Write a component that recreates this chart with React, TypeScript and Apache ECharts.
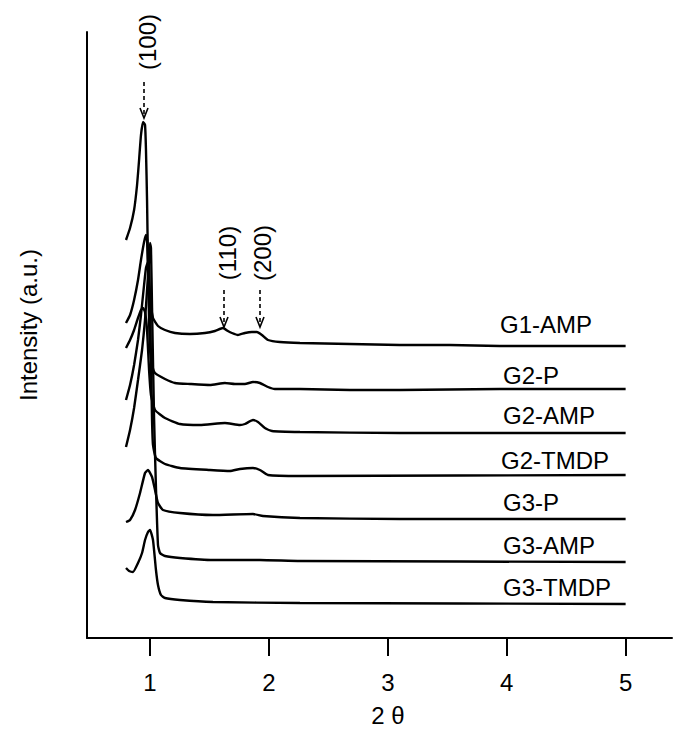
import React, { useEffect, useRef } from "react";
import * as echarts from "echarts";

// 2θ values and offset intensities (a.u.)
const seriesNames = ["G1-AMP", "G2-P", "G2-AMP", "G2-TMDP", "G3-P", "G3-AMP", "G3-TMDP"];

const g1Amp = [[0.798,398],[0.832,410],[0.866,428],[0.891,453],[0.908,478],[0.924,503],[0.941,516],[0.958,513],[0.966,488],[0.975,438],[0.983,378],[1.0,338],[1.025,320],[1.067,312],[1.126,308],[1.21,305],[1.336,304],[1.462,305],[1.546,307],[1.613,310],[1.655,307],[1.689,305],[1.739,303],[1.798,305],[1.857,306],[1.899,306],[1.941,303],[1.992,298],[2.092,296],[2.261,295],[2.681,294],[3.101,293],[3.521,293],[3.941,292],[4.361,292],[5.0,292]];
const g2P = [[0.798,315],[0.832,323],[0.866,338],[0.899,358],[0.924,378],[0.95,396],[0.966,403],[0.975,398],[0.983,368],[0.992,318],[1.0,288],[1.017,273],[1.042,265],[1.126,259],[1.21,255],[1.336,254],[1.504,253],[1.63,255],[1.714,254],[1.798,254],[1.866,256],[1.924,255],[1.992,251],[2.05,249],[2.261,249],[2.681,248],[3.101,248],[3.941,249],[5.0,249]];
const g2Amp = [[0.798,290],[0.832,298],[0.866,308],[0.899,320],[0.924,328],[0.941,330],[0.958,326],[0.975,308],[0.992,268],[1.008,243],[1.042,228],[1.126,220],[1.252,214],[1.42,213],[1.63,215],[1.756,213],[1.798,214],[1.866,218],[1.908,216],[1.966,210],[2.025,207],[2.261,206],[3.101,205],[5.0,205]];
const g2Tmdp = [[0.798,238],[0.832,253],[0.866,273],[0.899,298],[0.924,323],[0.95,353],[0.966,370],[0.983,376],[0.992,370],[1.0,338],[1.008,278],[1.017,218],[1.025,193],[1.05,180],[1.126,174],[1.252,170],[1.504,168],[1.672,167],[1.756,169],[1.866,170],[1.924,168],[1.992,163],[2.261,162],[5.0,163]];
const g3P = [[0.798,116],[0.832,118],[0.874,128],[0.916,145],[0.958,165],[0.983,168],[1.017,161],[1.042,148],[1.067,135],[1.109,128],[1.252,125],[1.529,123],[1.866,124],[1.95,122],[2.261,120],[3.101,119],[5.0,119]];
const g3Amp = [[0.798,191],[0.832,208],[0.866,230],[0.899,258],[0.933,288],[0.958,318],[0.975,348],[0.992,378],[1.0,395],[1.008,390],[1.017,330],[1.034,220],[1.05,150],[1.067,93],[1.084,85],[1.126,82],[1.252,80],[1.529,78],[1.924,78],[2.261,77],[5.0,76]];
const g3Tmdp = [[0.798,70],[0.824,67],[0.857,66],[0.899,75],[0.933,85],[0.958,98],[0.983,106],[1.0,108],[1.025,98],[1.05,68],[1.067,53],[1.092,43],[1.126,40],[1.252,38],[1.529,36],[2.261,35],[5.0,34]];

const seriesData = [g1Amp, g2P, g2Amp, g2Tmdp, g3P, g3Amp, g3Tmdp];
const xTicks = [1, 2, 3, 4, 5];
const peakLabels = ["(100)", "(110)", "(200)"];

const FONT = "'Liberation Sans', Arial, Helvetica, sans-serif";

export default function App() {
  const ref = useRef<HTMLDivElement>(null);
  useEffect(() => {
    const chart = echarts.init(ref.current!, null, { renderer: "svg" });
    const labelPos = [
      [500, 324], [503, 375], [503, 415], [501, 460], [503, 502], [503, 545], [503, 587],
    ];
    const arrow = (x: number, y1: number, y2: number) => [
      {
        type: "line",
        shape: { x1: x, y1, x2: x, y2: y2 - 2 },
        style: { stroke: "#000", lineWidth: 1.6, lineDash: [4, 3] },
      },
      {
        type: "polyline",
        shape: { points: [[x - 4, y2 - 10], [x, y2], [x + 4, y2 - 10]] },
        style: { stroke: "#000", lineWidth: 1.6, fill: null },
      },
    ];
    const rotText = (text: string, x: number, y: number) => ({
      type: "text",
      x,
      y,
      rotation: Math.PI / 2,
      style: { text, font: `24px ${FONT}`, fill: "#000", align: "center", verticalAlign: "middle" },
    });
    chart.setOption({
      animation: false,
      backgroundColor: "#fff",
      grid: { left: 87, right: 3, top: 32, bottom: 91, containLabel: false },
      xAxis: {
        type: "value",
        min: 0.47,
        max: 5.39,
        axisLine: { show: true, lineStyle: { color: "#000", width: 2 } },
        axisTick: { show: true, customValues: xTicks, length: 18, lineStyle: { color: "#000", width: 2 } },
        axisLabel: { customValues: xTicks, margin: 32, color: "#000", fontSize: 24, fontFamily: FONT },
        splitLine: { show: false },
      },
      yAxis: {
        type: "value",
        min: 0,
        max: 606,
        axisLine: { show: true, lineStyle: { color: "#000", width: 2 } },
        axisTick: { show: false },
        axisLabel: { show: false },
        splitLine: { show: false },
      },
      series: seriesData.map((d, i) => ({
        name: seriesNames[i],
        type: "line",
        data: d,
        showSymbol: false,
        smooth: 0.15,
        lineStyle: { color: "#000", width: 2.4 },
      })),
      graphic: [
        ...seriesNames.map((n, i) => ({
          type: "text",
          x: labelPos[i][0],
          y: labelPos[i][1],
          style: { text: n, font: `24px ${FONT}`, fill: "#000", align: "left", verticalAlign: "middle" },
        })),
        {
          type: "text",
          x: 28,
          y: 325,
          rotation: Math.PI / 2,
          style: { text: "Intensity (a.u.)", font: `24px ${FONT}`, fill: "#000", align: "center", verticalAlign: "middle" },
        },
        {
          type: "text",
          x: 388,
          y: 715,
          style: { text: "2 θ", font: `24px ${FONT}`, fill: "#000", align: "center", verticalAlign: "middle" },
        },
        rotText(peakLabels[0], 147, 42),
        rotText(peakLabels[1], 227, 253),
        rotText(peakLabels[2], 262, 253),
        ...arrow(144, 82, 118),
        ...arrow(224, 290, 327),
        ...arrow(260, 290, 327),
      ],
    });
    return () => chart.dispose();
  }, []);
  return <div ref={ref} style={{ position: "fixed", left: 0, top: 0, width: 675, height: 729 }} />;
}
